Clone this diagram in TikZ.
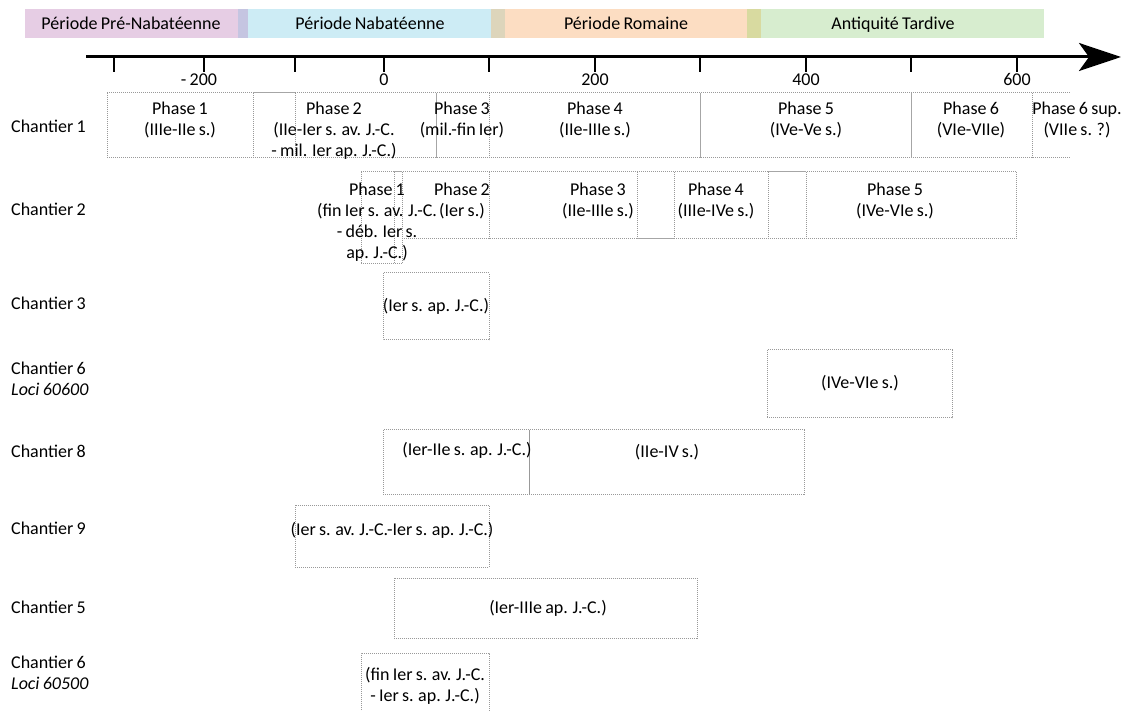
\documentclass[tikz,border=0pt]{standalone}
\usepackage{fontspec}
\setmainfont{Carlito}[WordSpace=0.8]
\usetikzlibrary{arrows.meta}

\definecolor{prenab}{RGB}{230,205,228}
\definecolor{prenabnab}{RGB}{197,197,225}
\definecolor{nab}{RGB}{205,236,245}
\definecolor{nabrom}{RGB}{221,213,187}
\definecolor{rom}{RGB}{252,221,194}
\definecolor{romtard}{RGB}{216,218,160}
\definecolor{tard}{RGB}{215,237,207}

\tikzset{
  cut/.style={draw=gray!80, densely dotted, line width=1pt},
  solidcut/.style={draw=gray!70, line width=1pt},
  phasetext/.style={anchor=north, align=center},
  sitename/.style={anchor=west, align=left},
  bandtext/.style={anchor=base}
}

\begin{document}
\begin{tikzpicture}[
  x=1pt, y=-1pt,
  every node/.style={font=\fontsize{18}{20.8}\selectfont, inner sep=0pt, text=black}
]
  \useasboundingbox (0,0) rectangle (1128,711);

  % periodes
  \fill[prenab]    (25,9)  rectangle (238,38);
  \fill[prenabnab] (238,9) rectangle (248,38);
  \fill[nab]       (248,9) rectangle (491,38);
  \fill[nabrom]    (491,9) rectangle (505,38);
  \fill[rom]       (505,9) rectangle (747,38);
  \fill[romtard]   (747,9) rectangle (761,38);
  \fill[tard]      (761,9) rectangle (1044,38);
  \node[bandtext] (prenabt) at (131,30) {Période Pré-Nabatéenne};
  \node[bandtext] (nabt)    at (370,30) {Période Nabatéenne};
  \node[bandtext] (romt)    at (626,30) {Période Romaine};
  \node[bandtext] (tardt)   at (893,30) {Antiquité Tardive};

  % axe du temps
  \coordinate (axstart) at (86,57);
  \coordinate (axend)   at (1121,57);
  \draw[line width=3pt, -{Stealth[length=42pt, width=28pt, inset=10pt]}] (axstart) -- (axend);
  \foreach \x/\yr in {114/, 204/, 295/, 384/0, 489/, 595/200, 700/, 806/400, 911/, 1017/600} {
    \draw[line width=1.6pt] (\x,57) -- (\x,72);
    \node[bandtext] (yr\x) at (\x,86) {\yr};
  }
  \node[bandtext] (yrm200) at (199,86) {- 200};

  % chantiers
  \node[sitename] (ch1)  at (11,126) {Chantier 1};
  \node[sitename] (ch2)  at (11,209) {Chantier 2};
  \node[sitename] (ch3)  at (11,303) {Chantier 3};
  \node[sitename, anchor=north west] (ch6a) at (11,362) {Chantier 6\\\textit{Loci 60600}};
  \node[sitename] (ch8)  at (11,451) {Chantier 8};
  \node[sitename] (ch9)  at (11,528) {Chantier 9};
  \node[sitename] (ch5)  at (11,607) {Chantier 5};
  \node[sitename, anchor=north west] (ch6b) at (11,656) {Chantier 6\\\textit{Loci 60500}};

  % chantier 1
  \draw[cut] (107,93) -- (1070,93) (107,158) -- (1070,158);
  \draw[cut] (107,93) -- (107,158) (253,93) -- (253,158) (295,93) -- (295,158)
             (489,93) -- (489,158) (1032,93) -- (1032,158);
  \draw[solidcut] (253,93) -- (295,93) (436,93) -- (436,158) (700,93) -- (700,158) (911,93) -- (911,158);
  \node[phasetext] (c1p1)  at (180,102)  {Phase 1\\(IIIe-IIe s.)};
  \node[phasetext] (c1p2)  at (334,102)  {Phase 2\\(IIe-Ier s. av. J.-C.\\- mil. Ier ap. J.-C.)};
  \node[phasetext] (c1p3)  at (462,102)  {Phase 3\\(mil.-fin Ier)};
  \node[phasetext] (c1p4)  at (595,102)  {Phase 4\\(IIe-IIIe s.)};
  \node[phasetext] (c1p5)  at (806,102)  {Phase 5\\(IVe-Ve s.)};
  \node[phasetext] (c1p6)  at (971,102)  {Phase 6\\(VIe-VIIe)};
  \node[phasetext] (c1p6s) at (1077,102) {Phase 6 sup.\\(VIIe s. ?)};

  % chantier 2
  \draw[cut] (361,172) -- (1016,172) (402,239) -- (1016,239) (361,264) -- (402,264);
  \draw[cut] (361,172) -- (361,264) (394,172) -- (394,264) (402,172) -- (402,264)
             (489,172) -- (489,239) (637,172) -- (637,239) (674,172) -- (674,239)
             (768,172) -- (768,239) (806,172) -- (806,239) (1016,172) -- (1016,239);
  \draw[solidcut] (637,239) -- (674,239) (768,172) -- (806,172) (394,172) -- (402,172);
  \node[phasetext] (c2p1) at (377,183) {Phase 1\\(fin Ier s. av. J.-C.\\- déb. Ier s.\\ap. J.-C.)};
  \node[phasetext] (c2p2) at (462,183) {Phase 2\\(Ier s.)};
  \node[phasetext] (c2p3) at (598,183) {Phase 3\\(IIe-IIIe s.)};
  \node[phasetext] (c2p4) at (716,183) {Phase 4\\(IIIe-IVe s.)};
  \node[phasetext] (c2p5) at (895,183) {Phase 5\\(IVe-VIe s.)};

  % chantier 3
  \draw[cut] (383,273) rectangle (489,340);
  \node (c3) at (436,306) {(Ier s. ap. J.-C.)};

  % chantier 6, loci 60600
  \draw[cut] (767,350) rectangle (952,418);
  \node (c6a) at (860,383) {(IVe-VIe s.)};

  % chantier 8
  \draw[cut] (383,430) rectangle (529,494) (529,430) rectangle (804,494);
  \node (c8a) at (467,450) {(Ier-IIe s. ap. J.-C.)};
  \node (c8b) at (667,452) {(IIe-IV s.)};

  % chantier 9
  \draw[cut] (295,505) rectangle (489,567);
  \node (c9) at (392,530) {(Ier s. av. J.-C.-Ier s. ap. J.-C.)};

  % chantier 5
  \draw[cut] (394,578) rectangle (697,638);
  \node (c5) at (548,608) {(Ier-IIIe ap. J.-C.)};

  % chantier 6, loci 60500
  \draw[cut] (361,712) -- (361,653) -- (489,653) -- (489,712);
  \node[phasetext] (c6b) at (425,667) {(fin Ier s. av. J.-C.\\- Ier s. ap. J.-C.)};
\end{tikzpicture}
\end{document}
